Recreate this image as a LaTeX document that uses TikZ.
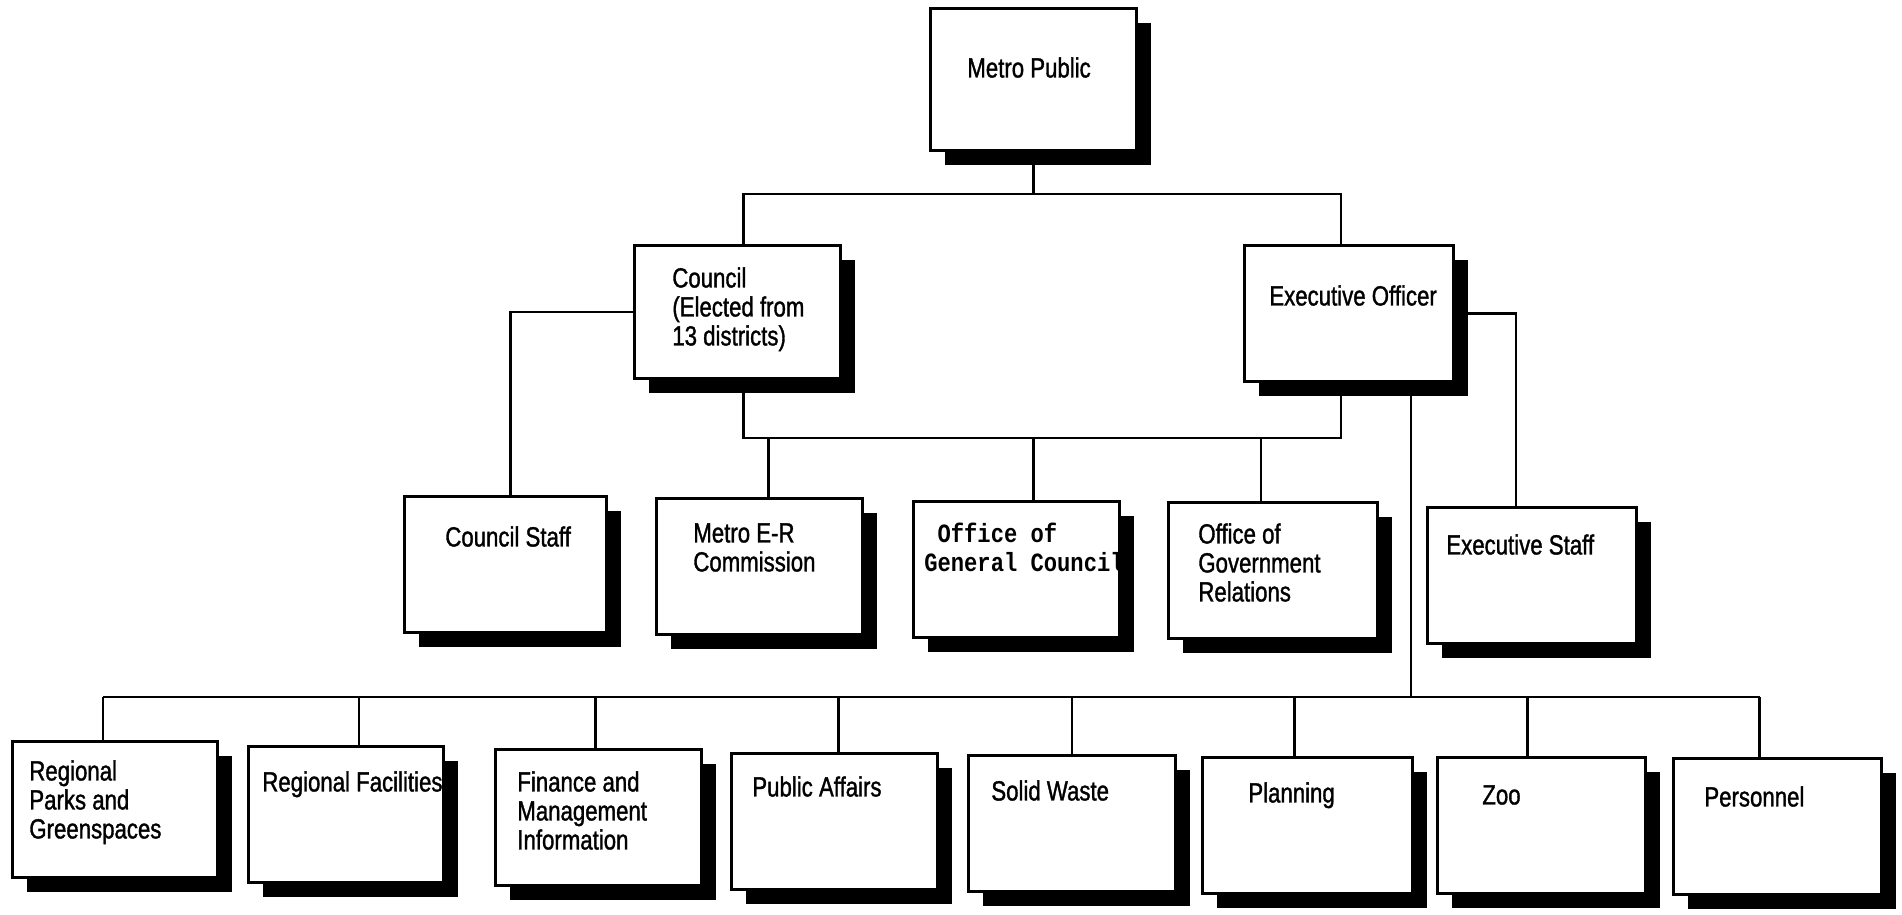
\documentclass[tikz,border=0pt]{standalone}
\usepackage{fontspec}
\setmainfont{Liberation Sans}[FakeStretch=0.8, FakeBold=1.2]
\newfontfamily\typewriter{Liberation Mono}[FakeStretch=0.84]
\usetikzlibrary{shadows}

\tikzset{
  orgbox/.style={draw, line width=1.9pt, fill=white, anchor=north west,
    minimum width=4.12cm, minimum height=2.72cm, inner sep=0pt,
    drop shadow={shadow xshift=0.28cm, shadow yshift=-0.28cm, fill=black, opacity=1}},
  boxtext/.style={anchor=north west, inner sep=0pt, align=left,
    font=\fontsize{15.8}{16.5}\selectfont},
  monotext/.style={boxtext, font=\typewriter\bfseries\fontsize{15}{16.5}\selectfont},
  link/.style={line width=1.4pt}
}

\begin{document}
\begin{tikzpicture}[x=0.02cm, y=-0.02cm]
\useasboundingbox (0,0) rectangle (1902,914);

% top
\node[orgbox, minimum height=2.84cm] (metro) at (929,7) {};
\node[boxtext] (metro-txt) at ([shift={(38,50)}]metro.north west) {Metro Public};

% council and executive
\node[orgbox, minimum height=2.66cm] (council) at (633,244) {};
\node[boxtext] (council-txt) at ([shift={(39,23)}]council.north west) {Council\\(Elected from\\13 districts)};
\node[orgbox, minimum width=4.18cm] (exec) at (1243,244) {};
\node[boxtext] (exec-txt) at ([shift={(26,41)}]exec.north west) {Executive Officer};

% staff and offices
\node[orgbox, minimum width=4.04cm] (cstaff) at (403,495) {};
\node[boxtext] (cstaff-txt) at ([shift={(42,31)}]cstaff.north west) {Council Staff};
\node[orgbox] (erc) at (655,497) {};
\node[boxtext] (erc-txt) at ([shift={(38,26)}]erc.north west) {Metro E-R\\Commission};
\node[orgbox] (ogc) at (912,500) {};
\node[monotext] (ogc-txt) at ([shift={(12,23)}]ogc.north west) {\ Office of\\General Council};
\node[orgbox, minimum width=4.18cm] (ogr) at (1167,501) {};
\node[boxtext] (ogr-txt) at ([shift={(31,22)}]ogr.north west) {Office of\\Government\\Relations};
\node[orgbox, minimum width=4.18cm] (estaff) at (1426,506) {};
\node[boxtext] (estaff-txt) at ([shift={(20,28)}]estaff.north west) {Executive Staff};

% departments
\node[orgbox, minimum width=4.1cm] (rpg) at (11,740) {};
\node[boxtext] (rpg-txt) at ([shift={(18,20)}]rpg.north west) {Regional\\Parks and\\Greenspaces};
\node[orgbox, minimum width=3.9cm] (rf) at (247,745) {};
\node[boxtext] (rf-txt) at ([shift={(15,26)}]rf.north west) {Regional Facilities};
\node[orgbox] (fmi) at (494,748) {};
\node[boxtext] (fmi-txt) at ([shift={(23,23)}]fmi.north west) {Finance and\\Management\\Information};
\node[orgbox] (pa) at (730,752) {};
\node[boxtext] (pa-txt) at ([shift={(22,24)}]pa.north west) {Public Affairs};
\node[orgbox, minimum width=4.14cm] (sw) at (967,754) {};
\node[boxtext] (sw-txt) at ([shift={(24,26)}]sw.north west) {Solid Waste};
\node[orgbox, minimum width=4.2cm] (plan) at (1201,756) {};
\node[boxtext] (plan-txt) at ([shift={(47,26)}]plan.north west) {Planning};
\node[orgbox, minimum width=4.16cm] (zoo) at (1436,756) {};
\node[boxtext] (zoo-txt) at ([shift={(46,29)}]zoo.north west) {Zoo};
\node[orgbox, minimum width=4.16cm] (pers) at (1672,757) {};
\node[boxtext] (pers-txt) at ([shift={(32,29)}]pers.north west) {Personnel};

% connectors
\coordinate (topbus) at (0,194);
\coordinate (midbus) at (0,438);
\coordinate (botbus) at (0,697);
\coordinate (trunk) at ([shift={(62,0)}]exec.south);
\coordinate (cdrop) at ([shift={(6,0)}]council.north);
\coordinate (edrop) at ([shift={(-8,0)}]exec.north);

\draw[link] (metro.south) -- (metro.south |- topbus);
\draw[link] (cdrop) -- (cdrop |- topbus) -| (edrop);
\draw[link] (council.west) -| ([shift={(5,0)}]cstaff.north);
\draw[link] (exec.east) -| ([shift={(-16,0)}]estaff.north);
\draw[link] (cdrop |- council.south) -- (cdrop |- midbus) -| (edrop |- exec.south);
\foreach \n/\d in {erc/9, ogc/17, ogr/-12}
  \draw[link] ([shift={(\d,0)}]\n.north) -- ([shift={(\d,0)}]\n.north |- midbus);
\draw[link] (trunk) -- (trunk |- botbus);
\draw[link] ([shift={(-12,0)}]rpg.north |- botbus) -- ([shift={(-18,0)}]pers.north |- botbus);
\foreach \n/\d in {rpg/-12, rf/13, fmi/-3, pa/4, sw/0, plan/-13, zoo/-14, pers/-18}
  \draw[link] ([shift={(\d,0)}]\n.north) -- ([shift={(\d,0)}]\n.north |- botbus);

\end{tikzpicture}
\end{document}
